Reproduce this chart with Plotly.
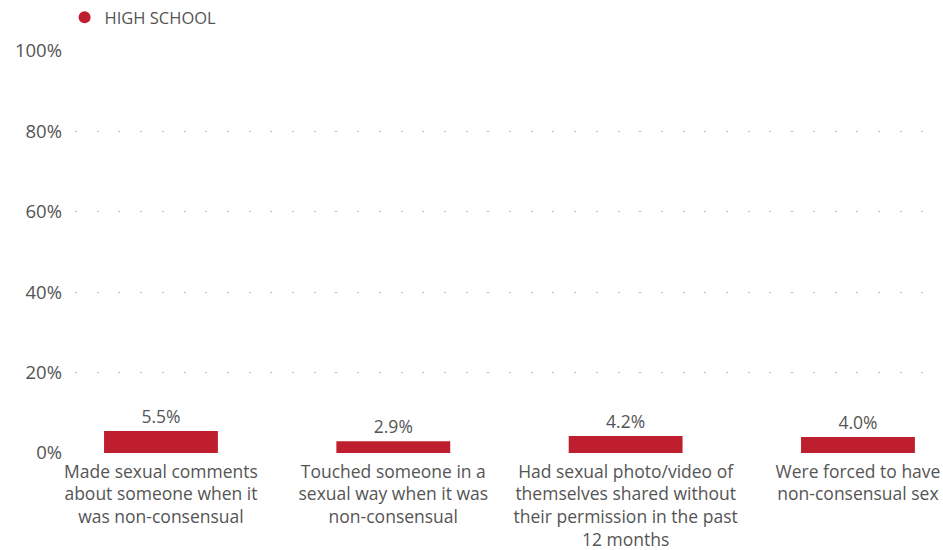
import plotly.graph_objects as go

categories = [
    "Made sexual comments<br>about someone when it<br>was non-consensual",
    "Touched someone in a<br>sexual way when it was<br>non-consensual",
    "Had sexual photo/video of<br>themselves shared without<br>their permission in the past<br>12 months",
    "Were forced to have<br>non-consensual sex",
]
values = [5.5, 2.9, 4.2, 4.0]
labels = ["5.5%", "2.9%", "4.2%", "4.0%"]
series_name = "HIGH SCHOOL"
tick_vals = [0, 20, 40, 60, 80, 100]
tick_text = ["0%", "20%", "40%", "60%", "80%", "100%"]

red = "#be1e2d"
txt = "#555555"
font = "Open Sans"

x = list(range(len(categories)))
fig = go.Figure()
fig.add_trace(go.Bar(
    x=x, y=values, width=0.49, marker=dict(color=red, line=dict(width=0)),
    text=labels, textposition="outside", cliponaxis=False,
    textfont=dict(size=17.5, color=txt, family=font), showlegend=False,
))
fig.add_trace(go.Scatter(
    x=[None], y=[None], mode="markers", name=series_name,
    marker=dict(color=red, size=12, symbol="circle"),
))
fig.update_layout(
    width=943, height=550,
    margin=dict(l=75, r=0, t=51, b=97),
    plot_bgcolor="white", paper_bgcolor="white",
    font=dict(family=font, color=txt, size=17),
    showlegend=True,
    legend=dict(orientation="h", x=-0.012, xanchor="left", y=1.0, yanchor="top",
                yref="container", font=dict(size=16.5, color=txt), itemsizing="constant"),
    xaxis=dict(range=[-0.370, 3.366], tickvals=x, ticktext=categories,
               showgrid=False, zeroline=False, showline=False, ticks="",
               ticklabelstandoff=6,
               tickfont=dict(size=17.5, color=txt, family=font), fixedrange=True),
    yaxis=dict(range=[0, 100], tickvals=tick_vals, ticktext=tick_text,
               showgrid=True, gridcolor="#b8b8b8", gridwidth=1.3, griddash="2px,19.7px",
               zeroline=False, showline=False, ticks="", ticklabelstandoff=12,
               tickfont=dict(size=18.5, color=txt, family=font)),
)
fig.write_html("out.html")
